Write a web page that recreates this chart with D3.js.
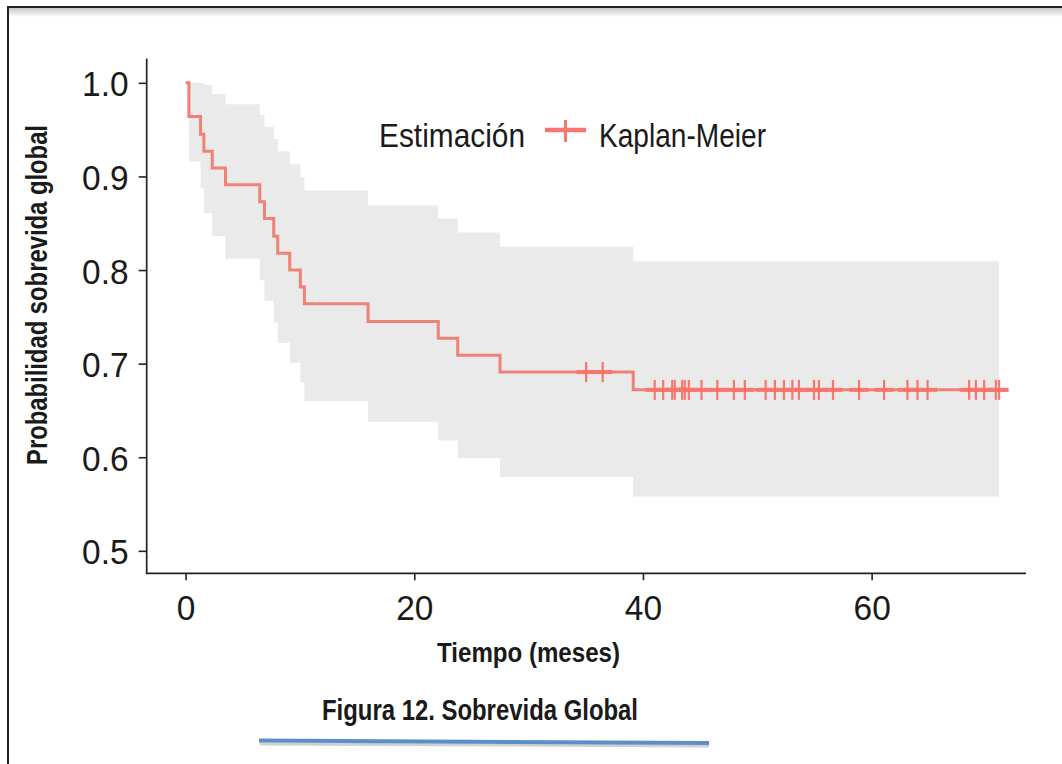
<!DOCTYPE html>
<html>
<head>
<meta charset="utf-8">
<script src="https://cdn.jsdelivr.net/npm/d3@7/dist/d3.min.js"></script>
<style>
  html, body { margin: 0; padding: 0; background: #ffffff; }
  svg { display: block; }
  text { font-family: "Liberation Sans", Arial, Helvetica, sans-serif; fill: #1a1a1a; }
</style>
</head>
<body>
<svg id="chart" width="1062" height="764"></svg>
<script>
// ---- data ----
const eventTimes = [0.29, 1.31, 1.60, 2.33, 3.49, 6.49, 6.90, 7.71, 8.06, 9.11, 10.04, 10.39, 15.96, 22.10, 23.80, 27.50, 39.15];
const survival   = [0.964, 0.945, 0.927, 0.909, 0.891, 0.873, 0.855, 0.836, 0.818, 0.800, 0.782, 0.764, 0.745, 0.727, 0.709, 0.691, 0.672];
const upperCI    = [1.000, 1.000, 0.998, 0.988, 0.977, 0.966, 0.953, 0.940, 0.927, 0.913, 0.899, 0.885, 0.869, 0.855, 0.840, 0.825, 0.809];
const lowerCI    = [0.916, 0.887, 0.861, 0.836, 0.812, 0.789, 0.767, 0.744, 0.722, 0.701, 0.680, 0.660, 0.638, 0.618, 0.599, 0.579, 0.558];
const censorTimes = [35.03, 36.48, 41.03, 41.77, 42.56, 42.78, 43.43, 43.66, 44.01, 45.12, 46.50, 47.95, 48.91,
                     50.73, 51.54, 52.33, 53.07, 53.64, 54.96, 55.39, 56.62, 58.90, 61.09, 63.13, 64.01, 64.89,
                     68.53, 69.12, 69.84, 70.86, 71.15];
const lastTime = 71.15;
const xTicks = [0, 20, 40, 60];
const yTicks = [0.5, 0.6, 0.7, 0.8, 0.9, 1.0];
const xTitle = "Tiempo (meses)";
const yTitle = "Probabilidad sobrevida global";
const legendTitle = "Estimación";
const legendLabel = "Kaplan-Meier";
const caption = "Figura 12. Sobrevida Global";

const RED = "#F8766D";
const LINE_RED = "#EE8276";
const BAND = "#EAEAEA";

const svg = d3.select("#chart");

// ---- frame with shadow ----
const defs = svg.append("defs");
const g1 = defs.append("linearGradient").attr("id", "topShadow").attr("x1", 0).attr("y1", 0).attr("x2", 0).attr("y2", 1);
g1.append("stop").attr("offset", "0%").attr("stop-color", "#c8c8c8");
g1.append("stop").attr("offset", "100%").attr("stop-color", "#ffffff");
svg.append("rect").attr("x", 9).attr("y", 8).attr("width", 1053).attr("height", 9).attr("fill", "url(#topShadow)");
svg.append("line").attr("x1", 8).attr("x2", 1062).attr("y1", 7).attr("y2", 7).attr("stroke", "#222").attr("stroke-width", 2);
svg.append("line").attr("x1", 8).attr("x2", 8).attr("y1", 6).attr("y2", 764).attr("stroke", "#222").attr("stroke-width", 2);

// ---- scales ----
const x = d3.scaleLinear().domain([-3.40, 73.5]).range([146.7, 1026]);
const y = d3.scaleLinear().domain([0.476, 1.026]).range([573.3, 58.5]);

// ---- confidence band ----
const bandPts = [{t: 0, lo: 1, hi: 1}];
eventTimes.forEach((t, i) => bandPts.push({t, lo: lowerCI[i], hi: upperCI[i]}));
bandPts.push({t: lastTime, lo: lowerCI[lowerCI.length - 1], hi: upperCI[upperCI.length - 1]});
const area = d3.area().curve(d3.curveStepAfter)
  .x(d => x(d.t)).y0(d => y(d.lo)).y1(d => y(d.hi));
svg.append("path").datum(bandPts).attr("d", area).attr("fill", BAND);

// ---- survival step line ----
const linePts = [{t: 0, s: 1}];
eventTimes.forEach((t, i) => linePts.push({t, s: survival[i]}));
linePts.push({t: lastTime, s: survival[survival.length - 1]});
const line = d3.line().curve(d3.curveStepAfter).x(d => x(d.t)).y(d => y(d.s));
svg.append("path").datum(linePts).attr("d", line)
  .attr("fill", "none").attr("stroke", LINE_RED).attr("stroke-width", 3);

// ---- censor marks ----
function survAt(t) {
  let s = 1;
  eventTimes.forEach((et, i) => { if (et <= t) s = survival[i]; });
  return s;
}
const marks = svg.append("g");
censorTimes.forEach(t => {
  const cx = x(t), cy = y(survAt(t));
  marks.append("line").attr("x1", cx - 9.5).attr("x2", cx + 9.5).attr("y1", cy).attr("y2", cy)
    .attr("stroke", RED).attr("stroke-width", 4);
  marks.append("line").attr("x1", cx).attr("x2", cx).attr("y1", cy - 10).attr("y2", cy + 10)
    .attr("stroke", RED).attr("stroke-width", 2.2);
});

// ---- axes ----
const xAxis = svg.append("g").attr("transform", "translate(0,573.3)")
  .call(d3.axisBottom(x).tickValues(xTicks).tickFormat(d3.format("d")).tickSize(7).tickSizeOuter(0));
xAxis.select(".domain").remove();
xAxis.selectAll(".tick line").attr("stroke", "#222").attr("stroke-width", 1.6);
xAxis.selectAll(".tick text").attr("y", 46.5).attr("dy", null)
  .attr("font-size", 36).attr("fill", "#1a1a1a")
  .attr("font-family", "Liberation Sans, Arial, sans-serif")
  .attr("transform", "scale(0.93,1)");

const yAxis = svg.append("g").attr("transform", "translate(146.7,0)")
  .call(d3.axisLeft(y).tickValues(yTicks).tickFormat(d3.format(".1f")).tickSize(8).tickSizeOuter(0));
yAxis.select(".domain").remove();
yAxis.selectAll(".tick line").attr("stroke", "#222").attr("stroke-width", 1.6);
yAxis.selectAll(".tick text").attr("x", -19.5).attr("y", 13).attr("dy", null)
  .attr("font-size", 36).attr("fill", "#1a1a1a")
  .attr("font-family", "Liberation Sans, Arial, sans-serif")
  .attr("transform", "scale(0.93,1)");

// axis lines
svg.append("line").attr("x1", x.range()[0]).attr("x2", x.range()[0]).attr("y1", y.range()[1]).attr("y2", y.range()[0] + 0.8)
  .attr("stroke", "#222").attr("stroke-width", 1.7);
svg.append("line").attr("x1", x.range()[0] - 0.8).attr("x2", x.range()[1]).attr("y1", y.range()[0]).attr("y2", y.range()[0])
  .attr("stroke", "#222").attr("stroke-width", 1.7);

// ---- titles ----
svg.append("text").attr("x", 437).attr("y", 661.5)
  .attr("font-size", 28).attr("font-weight", "bold")
  .attr("textLength", 183).attr("lengthAdjust", "spacingAndGlyphs")
  .text(xTitle);

svg.append("text").attr("transform", "translate(46.5,465) rotate(-90)")
  .attr("x", 0).attr("y", 0)
  .attr("font-size", 29).attr("font-weight", "bold")
  .attr("textLength", 340).attr("lengthAdjust", "spacingAndGlyphs")
  .text(yTitle);

// ---- legend ----
svg.append("text").attr("x", 379).attr("y", 146.5)
  .attr("font-size", 33)
  .attr("textLength", 146).attr("lengthAdjust", "spacingAndGlyphs")
  .text(legendTitle);
svg.append("line").attr("x1", 545).attr("x2", 586).attr("y1", 130).attr("y2", 130)
  .attr("stroke", RED).attr("stroke-width", 4.5);
svg.append("line").attr("x1", 565.5).attr("x2", 565.5).attr("y1", 120).attr("y2", 142)
  .attr("stroke", RED).attr("stroke-width", 3);
svg.append("text").attr("x", 599).attr("y", 146.5)
  .attr("font-size", 33)
  .attr("textLength", 167).attr("lengthAdjust", "spacingAndGlyphs")
  .text(legendLabel);

// ---- caption and underline ----
svg.append("text").attr("x", 322).attr("y", 720)
  .attr("font-size", 29).attr("font-weight", "bold")
  .attr("textLength", 316).attr("lengthAdjust", "spacingAndGlyphs")
  .text(caption);
svg.append("line").attr("x1", 260).attr("x2", 709).attr("y1", 744).attr("y2", 746)
  .attr("stroke", "#d0d0d0").attr("stroke-width", 3);
svg.append("line").attr("x1", 259).attr("x2", 709).attr("y1", 740.5).attr("y2", 743)
  .attr("stroke", "#5B8FC9").attr("stroke-width", 4);
</script>
</body>
</html>
